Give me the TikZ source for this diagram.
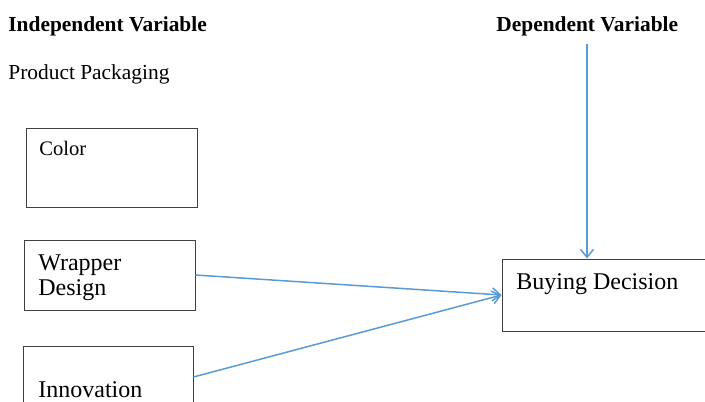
\documentclass[tikz,border=0pt]{standalone}
\usepackage{fontspec}
\setmainfont{Liberation Serif}
\usepackage{xcolor}
\usetikzlibrary{arrows.meta}
\definecolor{linkblue}{HTML}{5B9BD5}
\definecolor{boxgray}{HTML}{404040}
\tikzstyle{varbox} = [rectangle,draw=boxgray,line width=.5pt,inner sep=0pt]
\tikzstyle{boxtext} = [anchor=base west,inner sep=0pt,font=\fontsize{12}{12.5}\selectfont]
\tikzstyle{head} = [anchor=base west,inner sep=0pt,font=\fontsize{10.7}{13}\selectfont\bfseries]
\tikzstyle{link} = [draw=linkblue,line width=.75pt,-{Straight Barb[length=4pt,width=6.5pt]}]

\begin{document}
\begin{tikzpicture}[x=.5pt,y=-.5pt]
\clip (0,0) rectangle (705,401);
\fill[white] (0,0) rectangle (705,401);

\node [head](indep) at (8,32){Independent Variable};
\node [head](dep) at (496,32){Dependent Variable};
\node [head,font=\fontsize{10.7}{13}\selectfont](pack) at (8,80){Product Packaging};

\node [varbox,minimum width=85.5pt,minimum height=39.5pt](color) at (111.5,167.5){};
\node [varbox,minimum width=85.5pt,minimum height=35pt](wrap) at (109.5,275){};
\node [varbox,minimum width=85pt,minimum height=31pt](innov) at (108,377){};
\node [varbox,minimum width=139pt,minimum height=36pt](buy) at (641,295){};

% base of a two-line node sits on its last line
\node [boxtext,font=\fontsize{10.3}{12}\selectfont](colort) at (39,155){Color};
\node [boxtext,align=left](wrapt) at (38,295){Wrapper\\Design};
\node [boxtext](innovt) at (38,397){Innovation};
\node [boxtext](buyt) at (516,289){Buying Decision};

\coordinate (top) at (587,44);
\draw[link](top)--(top|-buy.north);
\draw[link](wrap.east)--(buy.west);
\draw[link](innov.east)--(buy.west);

\end{tikzpicture}
\end{document}
